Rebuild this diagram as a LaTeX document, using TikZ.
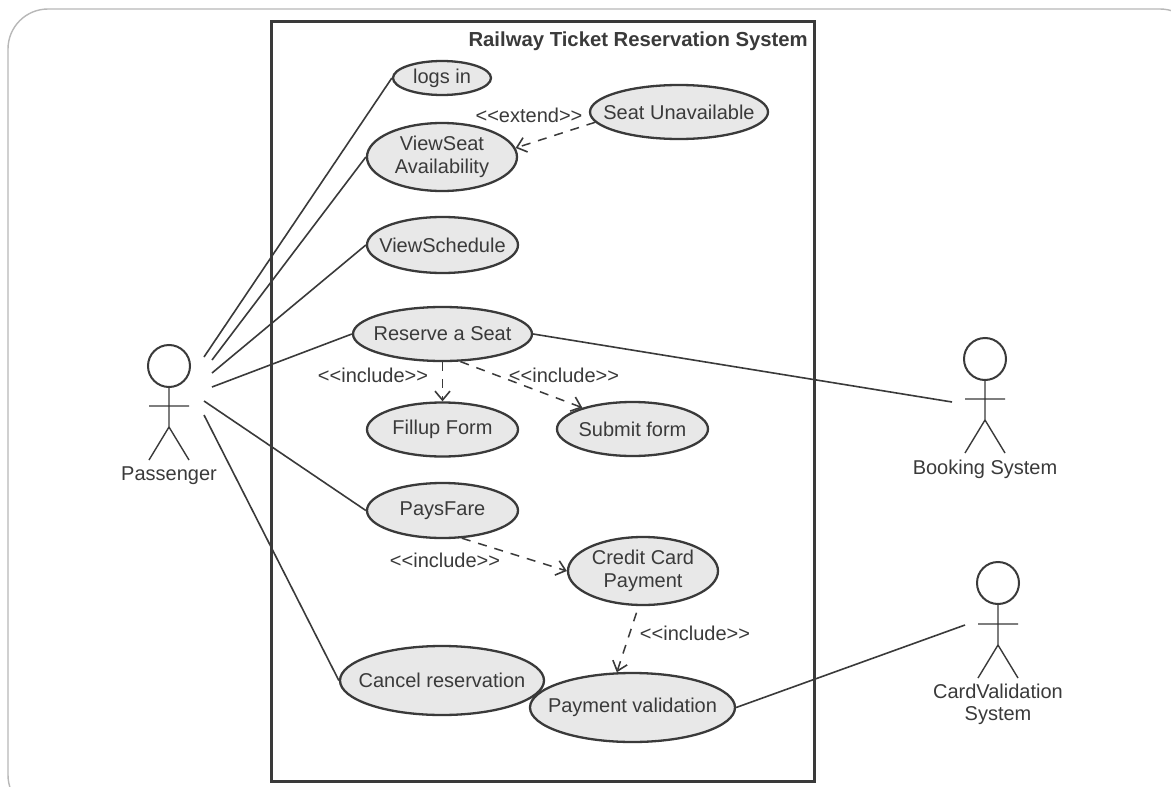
\documentclass[tikz,border=0pt]{standalone}
\usepackage{fontspec}
\setmainfont{Liberation Sans}
\usetikzlibrary{shapes.geometric,arrows.meta}
\definecolor{ink}{HTML}{3A3A3A}
\definecolor{ucfill}{HTML}{E8E8E8}
\newcommand{\ucl}[1]{\makebox[0pt][c]{#1}}
\tikzset{
  uc/.style={ellipse,draw=ink,fill=ucfill,line width=2.3pt,inner sep=0pt,text=ink,align=center,
    font=\fontsize{20}{23.5}\selectfont,minimum width=2*#1},
  assoc/.style={draw=ink,line width=1.6pt},
  dep/.style={draw=ink,line width=1.5pt,dash pattern=on 9pt off 8pt,-{Straight Barb[length=9pt,width=15pt,line width=1.6pt]}},
  stereo/.style={text=ink,font=\fontsize{20}{22}\selectfont,inner sep=0pt},
  alabel/.style={text=ink,font=\fontsize{20}{21.5}\selectfont,align=center,inner sep=0pt},
  head/.style={circle,draw=ink,line width=2pt,minimum size=42pt,inner sep=0pt},
  limb/.style={draw=ink,line width=1.4pt}
}
\begin{document}
\begin{tikzpicture}[x=1pt,y=-1pt]
\useasboundingbox (0,0) rectangle (1171,787);
\fill[white] (0,0) rectangle (1171,787);
\draw[draw=black!28,line width=1.4pt,rounded corners=40pt] (8,9) rectangle (1200,815);
\clip (0,0) rectangle (1171,787);
\draw[draw=ink,line width=3pt] (271,21) rectangle (814,781);
\node[anchor=east,inner sep=0pt,text=ink,font=\bfseries\fontsize{20.3}{22}\selectfont] (title) at (808,41.5) {Railway Ticket Reservation System};

\node[uc=49,minimum height=34pt] (logs) at (442,78) {\ucl{logs in}};
\node[uc=75,minimum height=68pt] (view) at (442,157) {\ucl{ViewSeat}\\\ucl{Availability}};
\node[uc=89,minimum height=54pt] (seat) at (679,112) {\ucl{Seat Unavailable}};
\node[uc=75.5,minimum height=56pt] (sched) at (442.5,245) {\ucl{ViewSchedule}};
\node[uc=89.5,minimum height=54pt] (res) at (442.5,334) {\ucl{Reserve a Seat}};
\node[uc=75.5,minimum height=54pt] (fill) at (442.5,429.5) {\ucl{Fillup Form}};
\node[uc=75.5,minimum height=54pt] (sub) at (632.5,429) {\ucl{Submit form}};
\node[uc=75.5,minimum height=55pt] (pays) at (442.5,510.5) {\ucl{PaysFare}};
\node[uc=75,minimum height=68pt] (cc) at (643,571) {\ucl{Credit Card}\\\ucl{Payment}};
\node[uc=102,minimum height=69pt] (cancel) at (442,680.5) {\ucl{Cancel reservation}};
\node[uc=102.5,minimum height=69pt] (pv) at (632.5,707.5) {\ucl{Payment validation}};

% Passenger
\node[head] (h1) at (169,366) {};
\coordinate (h1hip) at (169,427);
\coordinate (h1la) at (149,406); \coordinate (h1ra) at (189,406);
\coordinate (h1ll) at (149,460); \coordinate (h1rl) at (189,460);
\draw[limb] (h1.south) -- (h1hip) (h1la) -- (h1ra) (h1ll) -- (h1hip) -- (h1rl);
\node[alabel] (passenger) at (169,476) {Passenger};
% Booking
\node[head] (h2) at (985,359) {};
\coordinate (h2hip) at (985,420);
\coordinate (h2la) at (965,399); \coordinate (h2ra) at (1005,399);
\coordinate (h2ll) at (965,453); \coordinate (h2rl) at (1005,453);
\draw[limb] (h2.south) -- (h2hip) (h2la) -- (h2ra) (h2ll) -- (h2hip) -- (h2rl);
\node[alabel] (booking) at (985,469) {Booking System};
% Card validation
\node[head] (h3) at (998,583) {};
\coordinate (h3hip) at (998,645);
\coordinate (h3la) at (978,624); \coordinate (h3ra) at (1018,624);
\coordinate (h3ll) at (978,678); \coordinate (h3rl) at (1018,678);
\draw[limb] (h3.south) -- (h3hip) (h3la) -- (h3ra) (h3ll) -- (h3hip) -- (h3rl);
\node[alabel] (cardval) at (998,704.5) {CardValidation\\System};

\coordinate (p1) at (204,357); \coordinate (p2) at (212,360); \coordinate (p3) at (212,373);
\coordinate (p4) at (212,387); \coordinate (p5) at (204,401); \coordinate (p6) at (204,415);
\coordinate (b1) at (952,402); \coordinate (c1) at (965,625);
\draw[assoc] (p1) -- (logs.west);
\draw[assoc] (p2) -- (view.west);
\draw[assoc] (p3) -- (sched.west);
\draw[assoc] (p4) -- (res.west);
\draw[assoc] (p5) -- (pays.west);
\draw[assoc] (p6) -- (cancel.west);
\draw[assoc] (res.east) -- (b1);
\draw[assoc] (pv.east) -- (c1);

\draw[dep] (seat.187) -- (view.7);
\draw[dep] (res.south) -- (fill.north);
\draw[dep] (res.-57) -- (sub.157);
\draw[dep] (pays.-55) -- (cc.west);
\draw[dep,shorten <=7pt] (cc.263) -- (pv.114);

\node[stereo] (l1) at (529,115) {<{}<extend>{}>};
\node[stereo] (l2) at (373,375) {<{}<include>{}>};
\node[stereo] (l3) at (564,375) {<{}<include>{}>};
\node[stereo] (l4) at (445,560) {<{}<include>{}>};
\node[stereo] (l5) at (695,633) {<{}<include>{}>};
\end{tikzpicture}
\end{document}
